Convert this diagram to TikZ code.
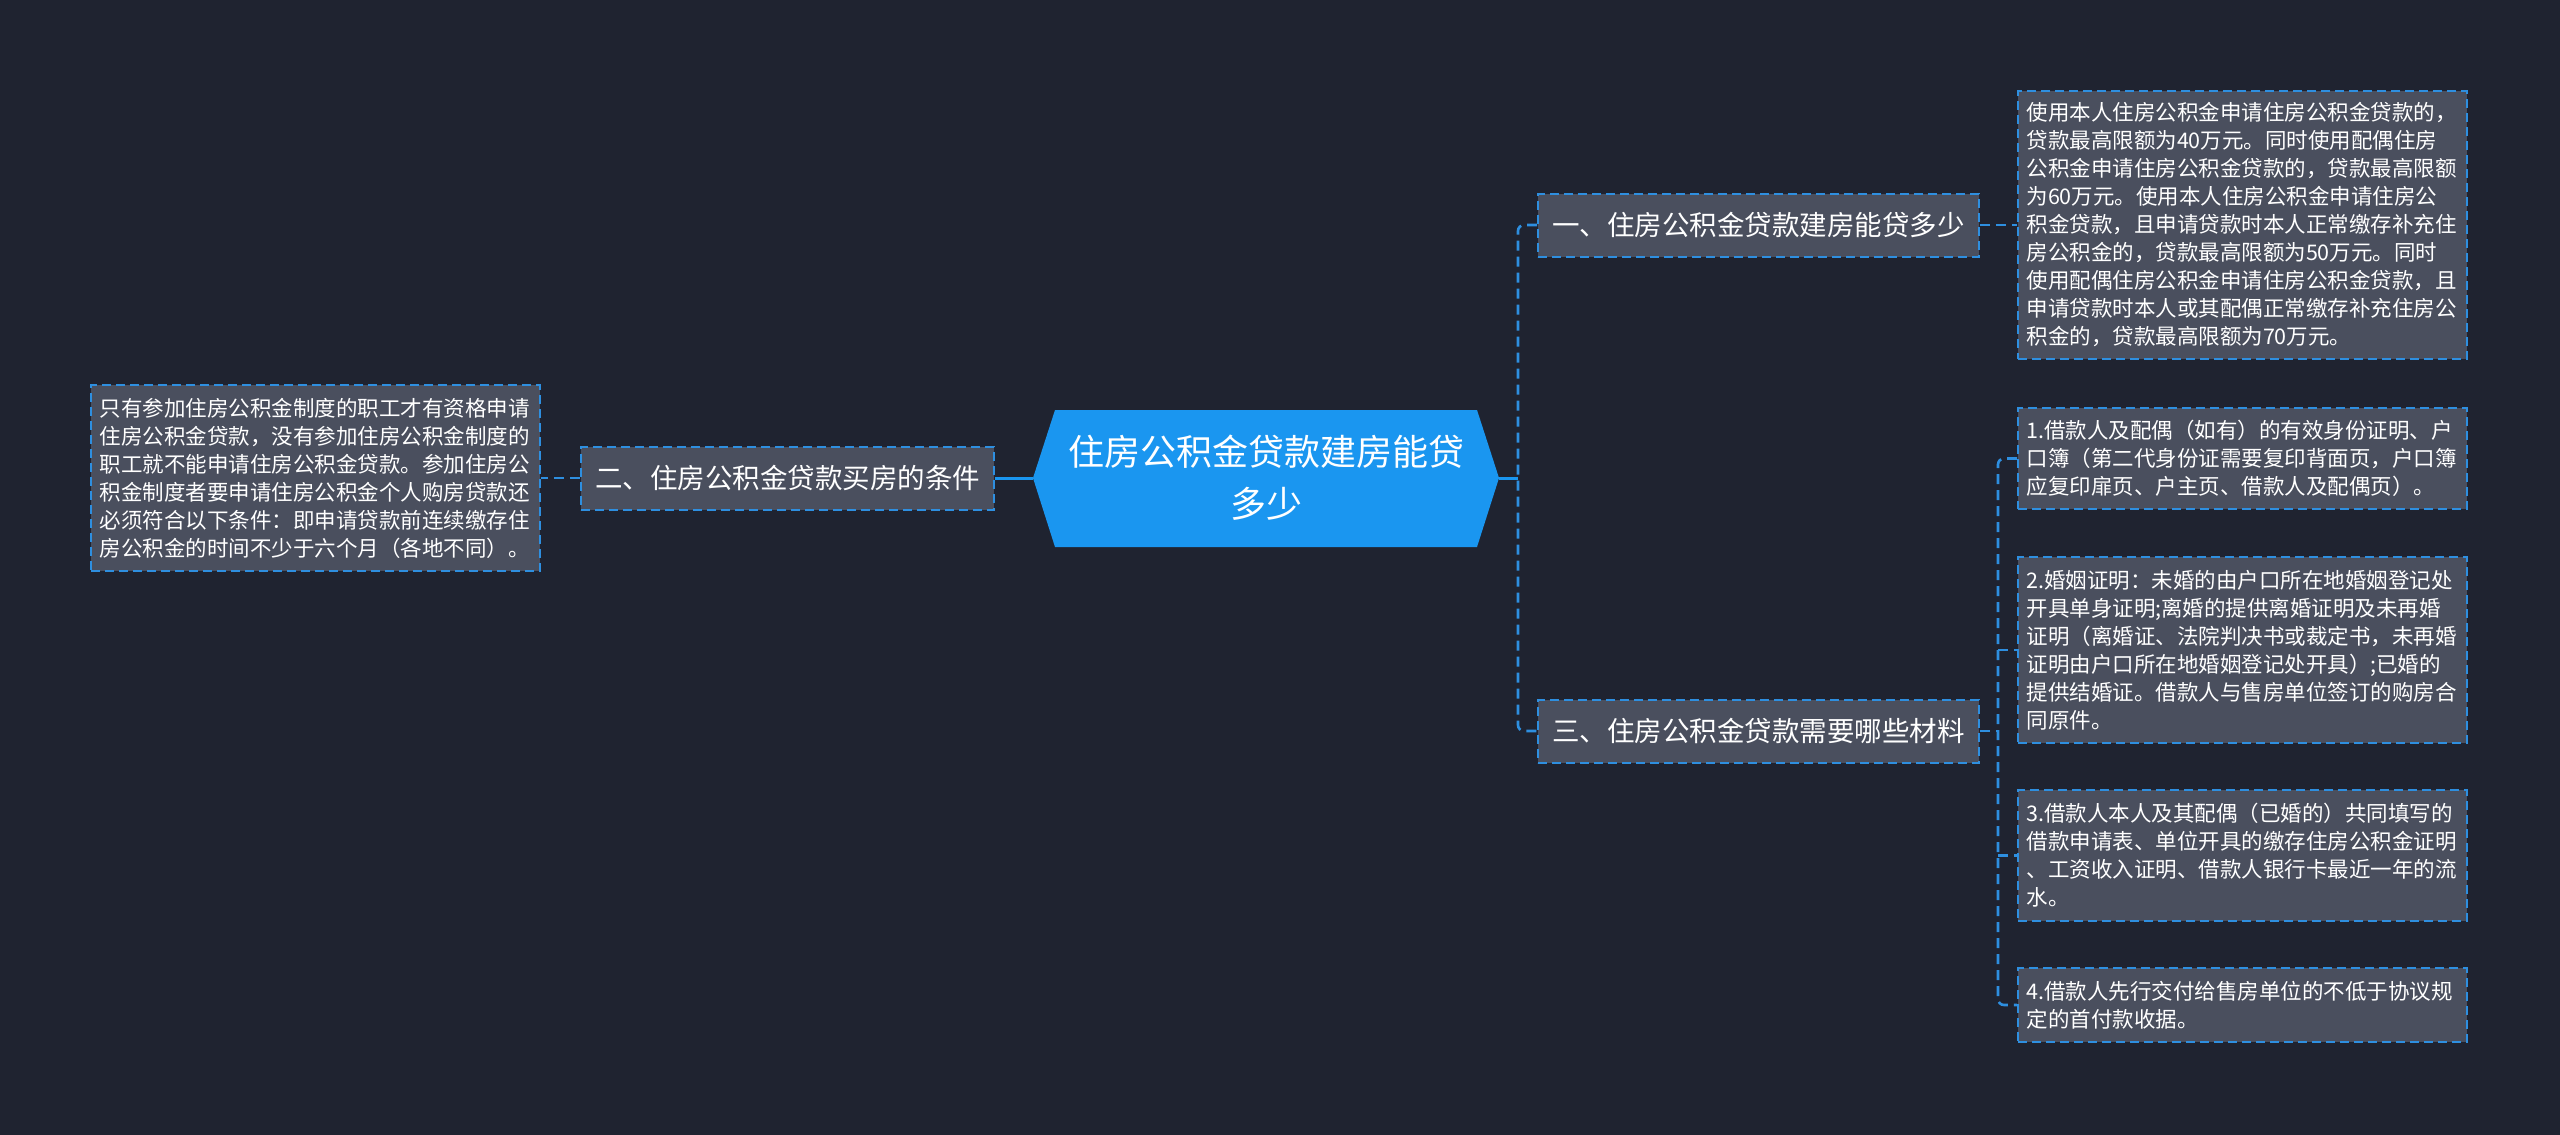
\documentclass[tikz,border=0pt]{standalone}
\usepackage{fontspec}
\setmainfont{Noto Sans CJK SC}
\definecolor{bg}{HTML}{1F2330}
\definecolor{boxfill}{HTML}{4A4F5E}
\definecolor{dashblue}{HTML}{2E8FE0}
\definecolor{rootblue}{HTML}{1A96F0}
\begin{document}
\begin{tikzpicture}[x=1pt,y=-1pt,
  conn/.style={draw=dashblue,line width=2.6pt,dash pattern=on 10pt off 6pt},
  solidconn/.style={draw=rootblue,line width=3pt},
  branchbox/.style={draw=dashblue,fill=boxfill,line width=2pt,dash pattern=on 9pt off 5pt,
    text=white,font={\fontsize{27.5}{34}\selectfont},minimum height=63pt,inner sep=0pt},
  leafbox/.style={draw=dashblue,fill=boxfill,line width=2pt,dash pattern=on 9pt off 5pt,
    text=white,font={\fontsize{21.5}{28}\selectfont},text width=432pt,align=left,
    inner xsep=8.5pt,inner ysep=6pt}
]
\fill[bg] (0,0) rectangle (2560,1135);
\useasboundingbox (0,0) rectangle (2560,1135);

% root
\node[minimum width=466pt,minimum height=137pt,inner sep=0pt] (c) at (1266,478) {};
\fill[rootblue] (1033,478) -- (1055,410) -- (1477,410) -- (1499,478) -- (1477,547) -- (1055,547) -- cycle;
\node[text=white,font={\fontsize{36}{52}\selectfont},align=center] (ct) at (1266,478)
  {住房公积金贷款建房能贷\\多少};

% branches
\node[branchbox,minimum width=413pt] (n2) at (787.5,478) {二、住房公积金贷款买房的条件};
\node[branchbox,minimum width=441pt] (n1) at (1758.5,225) {一、住房公积金贷款建房能贷多少};
\node[branchbox,minimum width=441pt] (n3) at (1758.5,731) {三、住房公积金贷款需要哪些材料};

% leaves
\node[leafbox,minimum height=186pt] (ll) at (315.5,478) {只有参加住房公积金制度的职工才有资格申请\\住房公积金贷款，没有参加住房公积金制度的\\职工就不能申请住房公积金贷款。参加住房公\\积金制度者要申请住房公积金个人购房贷款还\\必须符合以下条件：即申请贷款前连续缴存住\\房公积金的时间不少于六个月（各地不同）。};
\node[leafbox,minimum height=268pt] (l1) at (2242.5,225) {使用本人住房公积金申请住房公积金贷款的，\\贷款最高限额为40万元。同时使用配偶住房\\公积金申请住房公积金贷款的，贷款最高限额\\为60万元。使用本人住房公积金申请住房公\\积金贷款，且申请贷款时本人正常缴存补充住\\房公积金的，贷款最高限额为50万元。同时\\使用配偶住房公积金申请住房公积金贷款，且\\申请贷款时本人或其配偶正常缴存补充住房公\\积金的，贷款最高限额为70万元。};
\node[leafbox,minimum height=101pt] (l2) at (2242.5,458.5) {1.借款人及配偶（如有）的有效身份证明、户\\口簿（第二代身份证需要复印背面页，户口簿\\应复印扉页、户主页、借款人及配偶页）。};
\node[leafbox,minimum height=186pt] (l3) at (2242.5,650) {2.婚姻证明：未婚的由户口所在地婚姻登记处\\开具单身证明;离婚的提供离婚证明及未再婚\\证明（离婚证、法院判决书或裁定书，未再婚\\证明由户口所在地婚姻登记处开具）;已婚的\\提供结婚证。借款人与售房单位签订的购房合\\同原件。};
\node[leafbox,minimum height=131pt] (l4) at (2242.5,855.5) {3.借款人本人及其配偶（已婚的）共同填写的\\借款申请表、单位开具的缴存住房公积金证明\\、工资收入证明、借款人银行卡最近一年的流\\水。};
\node[leafbox,minimum height=74pt] (l5) at (2242.5,1005) {4.借款人先行交付给售房单位的不低于协议规\\定的首付款收据。};

% junctions
\coordinate (j1) at (1518,478);
\coordinate (j2) at (1998,731);

% connectors
\draw[solidconn] (c.west) -- (n2.east);
\draw[conn] (n2.west) -- (ll.east);
\draw[solidconn] (c.east) -- (j1);
\draw[conn,rounded corners=6pt] (n1.west) -- (j1 |- n1.west) -- (j1 |- n3.west) -- (n3.west);
\draw[conn] (n1.east) -- (l1.west);
\draw[conn] (n3.east) -- (j2);
\draw[conn,rounded corners=6pt] (l2.west) -- (j2 |- l2.west) -- (j2 |- l5.west) -- (l5.west);
\draw[conn] (j2 |- l3.west) -- (l3.west);
\draw[conn] (j2 |- l4.west) -- (l4.west);
\end{tikzpicture}
\end{document}
